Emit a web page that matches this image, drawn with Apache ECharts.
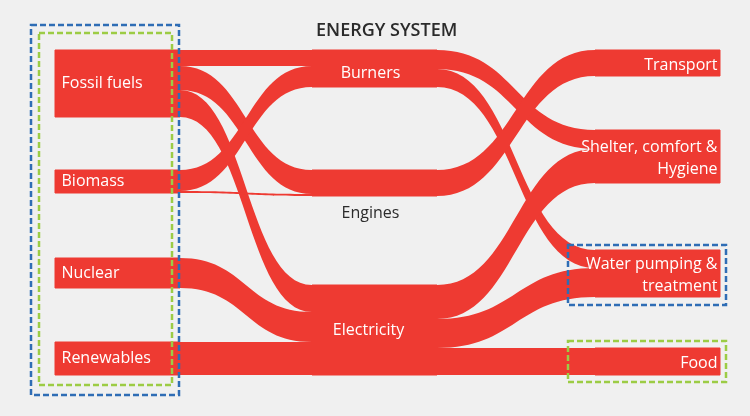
<!DOCTYPE html>
<html>
<head>
<meta charset="utf-8">
<script src="https://cdn.jsdelivr.net/npm/echarts@6/dist/echarts.min.js"></script>
<style>
html, body { margin: 0; padding: 0; background: #f0f0f0; }
#chart { width: 750px; height: 416px; }
</style>
</head>
<body>
<div id="chart"></div>
<script>
// nodes per column (top to bottom)
var sources = ['Fossil fuels', 'Biomass', 'Nuclear', 'Renewables'];
var carriers = ['Burners', 'Engines', 'Electricity'];
var uses = ['Transport', 'Shelter, comfort &\nHygiene', 'Water pumping &\ntreatment', 'Food'];

// empty space between nodes of a column, in flow units
var sourceGaps = [53, 65, 54];
var carrierGaps = [83, 89];
var useGaps = [54, 67, 51];

// [from, to, value]
var flows = [
    ['Fossil fuels', 'Burners', 16],
    ['Fossil fuels', 'Engines', 24],
    ['Fossil fuels', 'Electricity', 27],
    ['Biomass', 'Burners', 21],
    ['Biomass', 'Engines', 2],
    ['Nuclear', 'Electricity', 30],
    ['Renewables', 'Electricity', 33],
    ['Burners', 'Shelter, comfort &\nHygiene', 19],
    ['Burners', 'Water pumping &\ntreatment', 18],
    ['Engines', 'Transport', 26],
    ['Electricity', 'Shelter, comfort &\nHygiene', 34],
    ['Electricity', 'Water pumping &\ntreatment', 29],
    ['Electricity', 'Food', 27]
];

var RED = '#ee3a32';

function buildColumn(names, gaps, depth, localX, label) {
    var out = [];
    names.forEach(function (name, i) {
        out.push({ name: name, depth: depth, localX: localX, label: label });
        if (i < gaps.length) {
            // invisible spacer keeps the nodes apart like in the picture
            out.push({
                name: 'gap-' + depth + '-' + i,
                value: gaps[i],
                depth: depth,
                localX: localX,
                itemStyle: { color: 'rgba(0,0,0,0)', borderWidth: 0 },
                label: { show: false }
            });
        }
    });
    return out;
}

var nodes = []
    .concat(buildColumn(sources, sourceGaps, 0, 0, { position: 'insideLeft', distance: 7 }))
    .concat(buildColumn(carriers, carrierGaps, 1, 257 / 665, { position: 'inside' }))
    .concat(buildColumn(uses, useGaps, 2, 540 / 665, { position: 'insideRight', distance: 3, align: 'right', offset: [0, 2] }));

nodes.forEach(function (n) {
    if (n.name === 'Burners') {
        n.label = { position: 'inside', offset: [-4, 5] };
    }
    if (n.name === 'Electricity') {
        n.label = { position: 'inside', offset: [-6, 0] };
    }
    // Engines label sits under its band, in dark text
    if (n.name === 'Engines') {
        n.label = { position: 'bottom', distance: 6, color: '#2b2b2b', offset: [-4, 0] };
    }
});

var links = flows.map(function (f) {
    return { source: f[0], target: f[1], value: f[2] };
});

var myChart = echarts.init(document.getElementById('chart'));

var option = {
    backgroundColor: '#f0f0f0',
    animation: false,
    title: {
        text: 'ENERGY SYSTEM',
        left: 311,
        top: 17,
        textStyle: {
            color: '#2b2b2b',
            fontSize: 18,
            fontWeight: 600,
            fontFamily: 'Open Sans'
        }
    },
    graphic: [
        // dashed frames round the sources and two of the uses
        { type: 'rect', shape: { x: 31, y: 25, width: 148, height: 370 },
          style: { fill: null, stroke: '#2f6db5', lineWidth: 2.5, lineDash: [6, 3] }, z: 10 },
        { type: 'rect', shape: { x: 39, y: 33, width: 133, height: 352 },
          style: { fill: null, stroke: '#9ccc45', lineWidth: 2.5, lineDash: [6, 3] }, z: 10 },
        { type: 'rect', shape: { x: 568, y: 245, width: 158, height: 60 },
          style: { fill: null, stroke: '#2f6db5', lineWidth: 2.5, lineDash: [6, 3] }, z: 10 },
        { type: 'rect', shape: { x: 568, y: 341, width: 158, height: 41 },
          style: { fill: null, stroke: '#9ccc45', lineWidth: 2.5, lineDash: [6, 3] }, z: 10 }
    ],
    series: [{
        type: 'sankey',
        left: 55,
        right: 30,
        top: 50,
        bottom: 41,
        nodeWidth: 125,
        nodeGap: 0,
        layoutIterations: 0,
        nodeAlign: 'left',
        draggable: false,
        emphasis: { disabled: true },
        itemStyle: { color: RED, borderColor: RED, borderWidth: 1 },
        lineStyle: { color: RED, opacity: 1, curveness: 0.5 },
        label: {
            color: '#fff',
            fontSize: 16,
            fontFamily: 'Open Sans',
            lineHeight: 22
        },
        data: nodes,
        links: links
    }]
};

myChart.setOption(option);
</script>
</body>
</html>
